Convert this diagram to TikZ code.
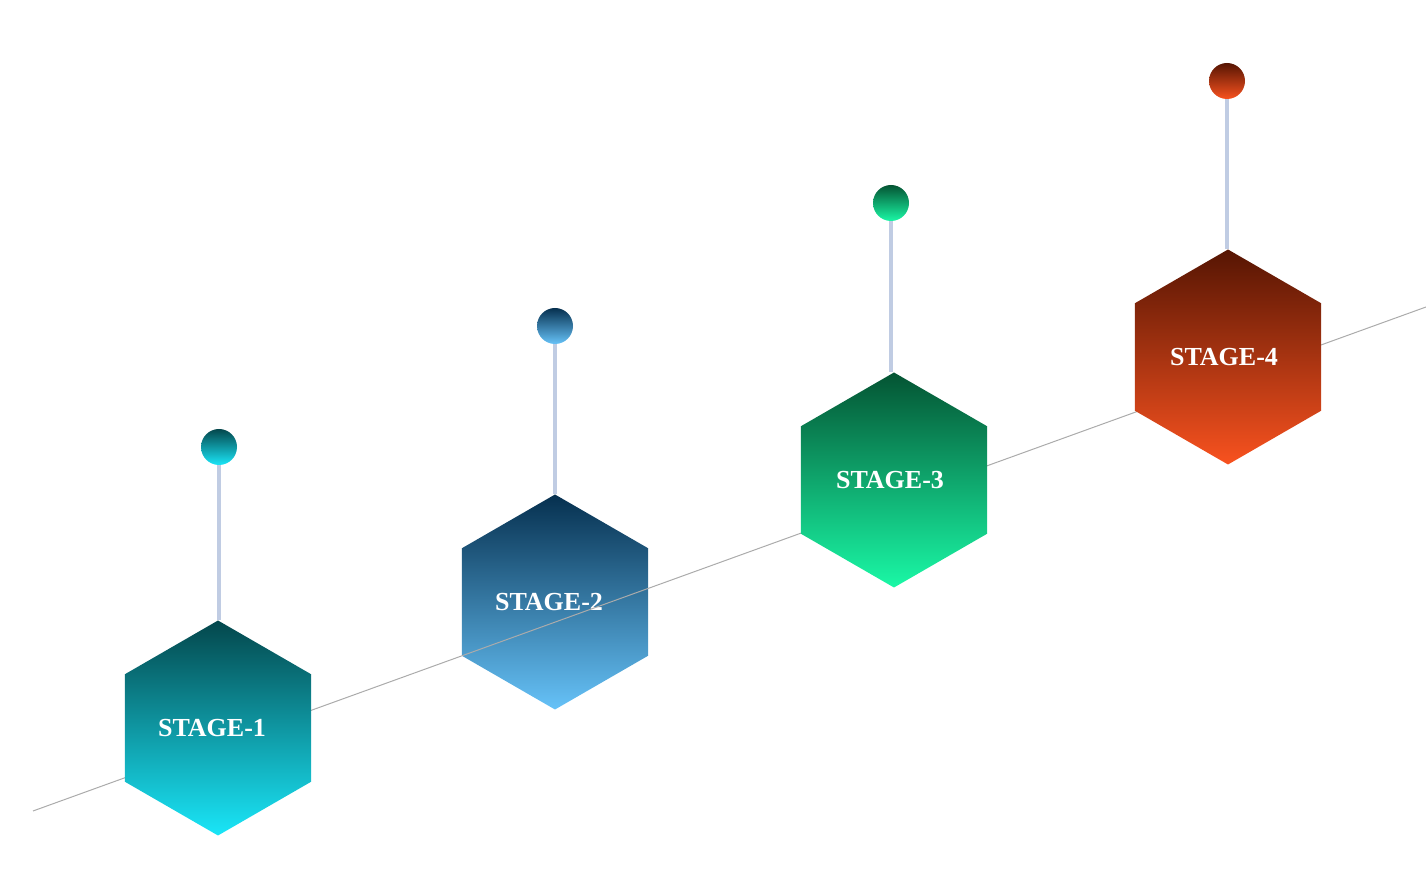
\documentclass[tikz,border=0pt]{standalone}
\usepackage{fontspec}
\setmainfont{Liberation Serif}
\usetikzlibrary{shapes.geometric}
\definecolor{t1a}{HTML}{04474C}\definecolor{t1b}{HTML}{1AE6F8}
\definecolor{t2a}{HTML}{06304F}\definecolor{t2b}{HTML}{66C2F8}
\definecolor{t3a}{HTML}{045433}\definecolor{t3b}{HTML}{1AF8A6}
\definecolor{t4a}{HTML}{561503}\definecolor{t4b}{HTML}{F8521F}
\definecolor{stemc}{HTML}{C0CCE3}
\definecolor{linec}{HTML}{ABABAB}
\tikzset{
  hexbox/.style={regular polygon, regular polygon sides=6, shape border rotate=30,
    minimum size=215*0.5pt, inner sep=0pt, outer sep=0pt,
    text=white, font=\bfseries\fontsize{13}{15}\selectfont},
  dotbox/.style={circle, minimum size=18pt, inner sep=0pt, outer sep=0pt},
  stemline/.style={draw=stemc, line width=1.7pt},
  baseline/.style={draw=linec, line width=0.5pt}
}
\begin{document}
\begin{tikzpicture}[x=0.5pt,y=-0.5pt]
\useasboundingbox (0,0) rectangle (1426,876);
\coordinate (L1) at (33,811);
\coordinate (L2) at (1426,307);
% stage 2 (line passes over it)
\node[hexbox, top color=t2a, bottom color=t2b] (h2) at (555,602) {STAGE-2\hspace*{6pt}};
\draw[baseline] (L1) -- (L2);
\node[hexbox, top color=t1a, bottom color=t1b] (h1) at (218,728) {STAGE-1\hspace*{6pt}};
\node[hexbox, top color=t3a, bottom color=t3b] (h3) at (894,480) {STAGE-3\hspace*{4pt}};
\node[hexbox, top color=t4a, bottom color=t4b] (h4) at (1228,357) {STAGE-4\hspace*{4pt}};
% dots
\node[dotbox, top color=t1a, bottom color=t1b] (d1) at (219,447) {};
\node[dotbox, top color=t2a, bottom color=t2b] (d2) at (555,326) {};
\node[dotbox, top color=t3a, bottom color=t3b] (d3) at (891,203) {};
\node[dotbox, top color=t4a, bottom color=t4b] (d4) at (1227,81) {};
% stems
\draw[stemline] (d1.south) -- (d1.south |- h1.north);
\draw[stemline] (d2.south) -- (d2.south |- h2.north);
\draw[stemline] (d3.south) -- (d3.south |- h3.north);
\draw[stemline] (d4.south) -- (d4.south |- h4.north);
\end{tikzpicture}
\end{document}
